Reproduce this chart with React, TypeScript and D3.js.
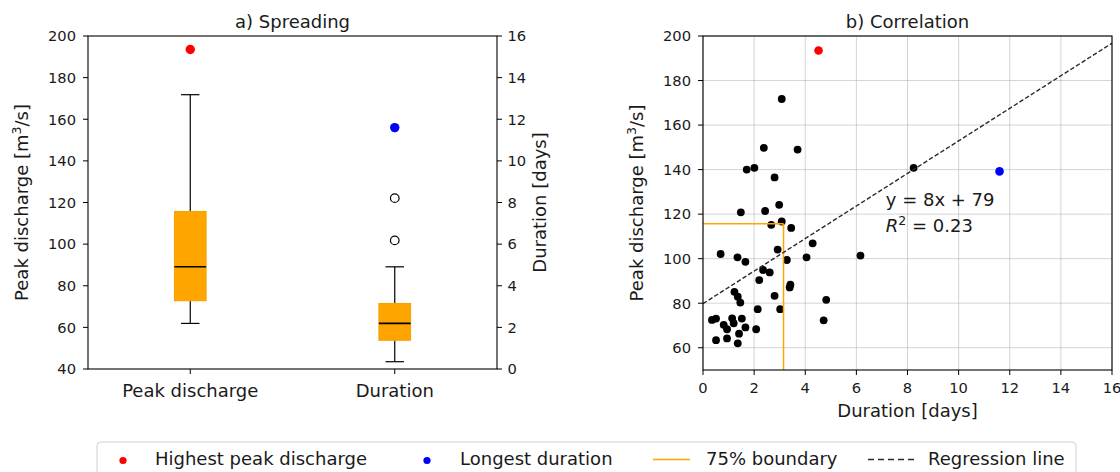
import React from "react";
import * as d3 from "d3";

// ---------- data ----------
const boxCategories = ["Peak discharge", "Duration"];
// [lower whisker, Q1, median, Q3, upper whisker]
const peakBox = [61.9, 72.8, 89.1, 115.7, 171.8];
const durationBox = [0.35, 1.38, 2.19, 3.15, 4.91];
const durationOutliers = [6.18, 8.21];

const durations = [3.08, 2.38, 3.70, 1.71, 2.01, 2.80, 8.24, 2.98, 1.48, 2.43, 2.67, 3.08, 3.45, 4.29, 0.69, 2.92, 1.35, 1.66, 3.28, 4.05, 6.16, 2.35, 2.61, 2.20, 3.42, 3.39, 4.82, 1.23, 1.36, 1.46, 2.80, 2.14, 3.02, 4.72, 0.35, 0.51, 1.14, 1.52, 0.81, 1.20, 0.94, 1.66, 2.08, 0.51, 0.94, 1.41, 1.36];
const peaks = [171.7, 149.8, 149.0, 140.0, 140.8, 136.5, 140.8, 124.2, 120.8, 121.4, 115.2, 116.7, 113.8, 106.9, 102.1, 104.1, 100.6, 98.6, 99.4, 100.6, 101.4, 94.9, 93.8, 90.4, 88.3, 87.1, 81.5, 85.1, 82.9, 80.3, 83.3, 77.3, 77.3, 72.3, 72.5, 73.1, 73.2, 73.1, 70.3, 71.0, 68.3, 69.1, 68.3, 63.4, 64.2, 66.3, 62.0];

// [duration, peak]
const highestPeakPoint = [4.52, 193.5];
const longestDurationPoint = [11.6, 139.2];

// [slope, intercept]
const regression = [7.31, 79.8];
const regressionLabel = "y = 8x + 79";
const r2Value = "0.23";

const peakTicks = [40, 60, 80, 100, 120, 140, 160, 180, 200];
const durationTicks = [0, 2, 4, 6, 8, 10, 12, 14, 16];
const scatterYTicks = [60, 80, 100, 120, 140, 160, 180, 200];
const scatterXTicks = [0, 2, 4, 6, 8, 10, 12, 14, 16];

const legendLabels = ["Highest peak discharge", "Longest duration", "75% boundary", "Regression line"];

// ---------- layout ----------
const W = 1120, H = 472;
const FONT = "DejaVu Sans, sans-serif";
const TICK_FS = 14.7;
const LABEL_FS = 18;
const ORANGE = "#FFA500";
const TXT = "#1a1a1a";

const L = { x0: 88, x1: 497, y0: 36, y1: 369 };
const R = { x0: 703, x1: 1112, y0: 36, y1: 370 };

export default function App() {
  const xBox = d3.scaleLinear().domain([0.5, 2.5]).range([L.x0, L.x1]);
  const yPeak = d3.scaleLinear().domain([40, 200]).range([L.y1, L.y0]);
  const yDur = d3.scaleLinear().domain([0, 16]).range([L.y1, L.y0]);

  const xS = d3.scaleLinear().domain([0, 16]).range([R.x0, R.x1]);
  const yS = d3.scaleLinear().domain([50, 200]).range([R.y1, R.y0]);

  const boxW = 0.155;
  const capW = 0.09;

  const renderBox = (pos: number, stats: number[], y: d3.ScaleLinear<number, number>) => {
    const [lo, q1, med, q3, hi] = stats;
    const xl = xBox(pos - boxW / 2), xr = xBox(pos + boxW / 2);
    const cl = xBox(pos - capW / 2), cr = xBox(pos + capW / 2);
    const xc = xBox(pos);
    return (
      <g key={pos}>
        <line x1={xc} x2={xc} y1={y(q3)} y2={y(hi)} stroke="#000" strokeWidth={1.2} />
        <line x1={xc} x2={xc} y1={y(q1)} y2={y(lo)} stroke="#000" strokeWidth={1.2} />
        <line x1={cl} x2={cr} y1={y(hi)} y2={y(hi)} stroke="#000" strokeWidth={1.2} />
        <line x1={cl} x2={cr} y1={y(lo)} y2={y(lo)} stroke="#000" strokeWidth={1.2} />
        <rect x={xl} y={y(q3)} width={xr - xl} height={y(q1) - y(q3)} fill={ORANGE} stroke="#f5a000" strokeWidth={1} />
        <line x1={xl} x2={xr} y1={y(med)} y2={y(med)} stroke="#000" strokeWidth={1.6} />
      </g>
    );
  };

  const regLine = d3.line<number>()
    .x((d) => xS(d))
    .y((d) => yS(regression[0] * d + regression[1]));

  return (
    <svg width={W} height={H} style={{ position: "absolute", left: 0, top: 0, background: "#fff" }} fontFamily={FONT} fill={TXT}>
      <defs>
        <clipPath id="clipS">
          <rect x={R.x0} y={R.y0} width={R.x1 - R.x0} height={R.y1 - R.y0} />
        </clipPath>
      </defs>

      {/* ===== a) Spreading ===== */}
      <text x={(L.x0 + L.x1) / 2} y={28} textAnchor="middle" fontSize={LABEL_FS}>a) Spreading</text>

      {boxCategories.map((c, i) => renderBox(i + 1, i === 0 ? peakBox : durationBox, i === 0 ? yPeak : yDur))}

      {durationOutliers.map((d, i) => (
        <circle key={i} cx={xBox(2)} cy={yDur(d)} r={4.3} fill="none" stroke="#000" strokeWidth={1.2} />
      ))}
      <circle cx={xBox(1)} cy={yPeak(highestPeakPoint[1])} r={4.7} fill="#ff0000" />
      <circle cx={xBox(2)} cy={yDur(longestDurationPoint[0])} r={4.7} fill="#0000ff" />

      <rect x={L.x0} y={L.y0} width={L.x1 - L.x0} height={L.y1 - L.y0} fill="none" stroke="#000" strokeWidth={1.1} />

      {peakTicks.map((t) => (
        <g key={"pl" + t}>
          <line x1={L.x0 - 5} x2={L.x0} y1={yPeak(t)} y2={yPeak(t)} stroke="#000" />
          <text x={L.x0 - 12} y={yPeak(t) + 5.3} textAnchor="end" fontSize={TICK_FS}>{t}</text>
        </g>
      ))}
      {durationTicks.map((t) => (
        <g key={"dr" + t}>
          <line x1={L.x1} x2={L.x1 + 5} y1={yDur(t)} y2={yDur(t)} stroke="#000" />
          <text x={L.x1 + 10.5} y={yDur(t) + 5.3} textAnchor="start" fontSize={TICK_FS}>{t}</text>
        </g>
      ))}
      {boxCategories.map((c, i) => (
        <g key={c}>
          <line x1={xBox(i + 1)} x2={xBox(i + 1)} y1={L.y1} y2={L.y1 + 5} stroke="#000" />
          <text x={xBox(i + 1)} y={397} textAnchor="middle" fontSize={LABEL_FS}>{c}</text>
        </g>
      ))}
      <text transform={`translate(28,${(L.y0 + L.y1) / 2}) rotate(-90)`} textAnchor="middle" fontSize={LABEL_FS}>
        Peak discharge [m<tspan fontSize={12.5} dy={-7}>3</tspan><tspan dy={7}>/s]</tspan>
      </text>
      <text transform={`translate(546,${(L.y0 + L.y1) / 2}) rotate(-90)`} textAnchor="middle" fontSize={LABEL_FS}>
        Duration [days]
      </text>

      {/* ===== b) Correlation ===== */}
      <text x={(R.x0 + R.x1) / 2} y={28} textAnchor="middle" fontSize={LABEL_FS}>b) Correlation</text>

      {scatterXTicks.map((t) => (
        <line key={"gx" + t} x1={xS(t)} x2={xS(t)} y1={R.y0} y2={R.y1} stroke="#b0b0b0" strokeOpacity={0.55} strokeWidth={1} />
      ))}
      {scatterYTicks.map((t) => (
        <line key={"gy" + t} x1={R.x0} x2={R.x1} y1={yS(t)} y2={yS(t)} stroke="#b0b0b0" strokeOpacity={0.55} strokeWidth={1} />
      ))}

      <g clipPath="url(#clipS)">
        {durations.map((d, i) => (
          <circle key={i} cx={xS(d)} cy={yS(peaks[i])} r={3.9} fill="#000" />
        ))}
        <circle cx={xS(highestPeakPoint[0])} cy={yS(highestPeakPoint[1])} r={4.3} fill="#ff0000" />
        <circle cx={xS(longestDurationPoint[0])} cy={yS(longestDurationPoint[1])} r={4.3} fill="#0000ff" />
        <line x1={xS(0)} x2={xS(durationBox[3])} y1={yS(peakBox[3])} y2={yS(peakBox[3])} stroke={ORANGE} strokeWidth={1.5} />
        <line x1={xS(durationBox[3])} x2={xS(durationBox[3])} y1={yS(50)} y2={yS(peakBox[3])} stroke={ORANGE} strokeWidth={1.5} />
        <path d={regLine([0, 16]) || ""} stroke="#2a2a2a" strokeWidth={1.4} strokeDasharray="4.5,2.2" fill="none" />
      </g>

      <text x={xS(7.15)} y={yS(123.8)} fontSize={LABEL_FS}>{regressionLabel}</text>
      <text x={xS(7.15)} y={yS(112)} fontSize={LABEL_FS}>
        <tspan fontStyle="italic">R</tspan><tspan fontSize={12.5} dy={-7}>2</tspan><tspan dy={7}> = {r2Value}</tspan>
      </text>

      <rect x={R.x0} y={R.y0} width={R.x1 - R.x0} height={R.y1 - R.y0} fill="none" stroke="#000" strokeWidth={1.1} />

      {scatterYTicks.map((t) => (
        <g key={"sy" + t}>
          <line x1={R.x0 - 5} x2={R.x0} y1={yS(t)} y2={yS(t)} stroke="#000" />
          <text x={R.x0 - 12} y={yS(t) + 5.3} textAnchor="end" fontSize={TICK_FS}>{t}</text>
        </g>
      ))}
      {scatterXTicks.map((t) => (
        <g key={"sx" + t}>
          <line x1={xS(t)} x2={xS(t)} y1={R.y1} y2={R.y1 + 5} stroke="#000" />
          <text x={xS(t)} y={393.4} textAnchor="middle" fontSize={TICK_FS}>{t}</text>
        </g>
      ))}
      <text x={(R.x0 + R.x1) / 2} y={417} textAnchor="middle" fontSize={LABEL_FS}>Duration [days]</text>
      <text transform={`translate(643,${(R.y0 + R.y1) / 2}) rotate(-90)`} textAnchor="middle" fontSize={LABEL_FS}>
        Peak discharge [m<tspan fontSize={12.5} dy={-7}>3</tspan><tspan dy={7}>/s]</tspan>
      </text>

      {/* ===== legend ===== */}
      <rect x={97} y={442} width={979} height={45} rx={4} fill="#fff" fillOpacity={0.8} stroke="#d0d0d0" strokeWidth={1} />
      <circle cx={123} cy={460.5} r={3.6} fill="#ff0000" />
      <text x={155} y={464.5} fontSize={LABEL_FS}>{legendLabels[0]}</text>
      <circle cx={427} cy={460.5} r={3.6} fill="#0000ff" />
      <text x={460} y={464.5} fontSize={LABEL_FS}>{legendLabels[1]}</text>
      <line x1={653} x2={690} y1={459.5} y2={459.5} stroke={ORANGE} strokeWidth={1.5} />
      <text x={706} y={464.5} fontSize={LABEL_FS}>{legendLabels[2]}</text>
      <line x1={868} x2={915} y1={459.5} y2={459.5} stroke="#2a2a2a" strokeWidth={1.4} strokeDasharray="6,4" />
      <text x={928} y={464.5} fontSize={LABEL_FS}>{legendLabels[3]}</text>
    </svg>
  );
}
